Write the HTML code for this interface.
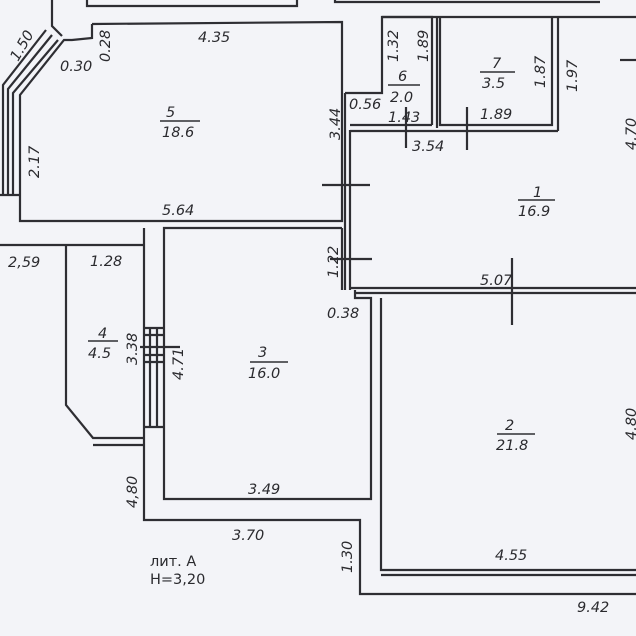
<!DOCTYPE html>
<html><head><meta charset="utf-8"><style>
html,body{margin:0;padding:0;background:#f3f4f8;}
svg{display:block}
text{font-family:"DejaVu Sans","Liberation Sans",sans-serif;font-size:14.5px;fill:#2a2a2e;font-style:italic}
</style></head><body>
<svg width="636" height="636" viewBox="0 0 636 636" xmlns="http://www.w3.org/2000/svg">
<rect width="636" height="636" fill="#f3f4f8"/>
<g stroke="#2e2e33" stroke-width="2.2" fill="none">
<polyline points="87,0 87,6 297,6 297,0"/>
<polyline points="335,0 335,2 600,2"/>
<polyline points="52,0 52,26 62,36"/>
<polyline points="92,24 342,22 342,221 20,221 20,95 64,40 72,40 92,38 92,24"/>
<polyline points="46,30 3,85 3,195"/>
<polyline points="52,35 8,89 8,195"/>
<polyline points="58,40 13,93 13,195"/>
<line x1="0" y1="195" x2="20" y2="195"/>
<line x1="345" y1="93" x2="345" y2="290"/>
<line x1="350" y1="130" x2="350" y2="290"/>
<polyline points="345,93 382,93 382,17 432,17 432,125"/>
<line x1="350" y1="125" x2="432" y2="125"/>
<line x1="437" y1="17" x2="437" y2="128"/>
<polyline points="440,17 440,125 552,125 552,17"/>
<line x1="382" y1="17" x2="636" y2="17"/>
<line x1="558" y1="17" x2="558" y2="131"/>
<line x1="350" y1="131" x2="558" y2="131"/>
<line x1="350" y1="288" x2="636" y2="288"/>
<line x1="355" y1="293" x2="636" y2="293"/>
<polyline points="342,228 164,228 164,499 371,499 371,298 355,298 355,290"/>
<line x1="342" y1="228" x2="342" y2="290"/>
<polyline points="381,298 381,570 636,570"/>
<line x1="381" y1="575" x2="636" y2="575"/>
<polyline points="144,228 144,520 360,520 360,594 636,594"/>
<polyline points="0,245 143,245"/>
<polyline points="66,245 66,405 93,438 143,438"/>
<line x1="93" y1="445" x2="143" y2="445"/>
<line x1="150" y1="328" x2="150" y2="427"/>
<line x1="157" y1="328" x2="157" y2="427"/>
<line x1="144" y1="328" x2="164" y2="328"/>
<line x1="144" y1="335" x2="164" y2="335"/>
<line x1="144" y1="355" x2="164" y2="355"/>
<line x1="144" y1="362" x2="164" y2="362"/>
<line x1="144" y1="427" x2="164" y2="427"/>
<line x1="322" y1="185" x2="370" y2="185"/>
<line x1="330" y1="259" x2="372" y2="259"/>
<line x1="140" y1="347" x2="180" y2="347"/>
<line x1="406" y1="107" x2="406" y2="148"/>
<line x1="467" y1="107" x2="467" y2="150"/>
<line x1="512" y1="258" x2="512" y2="325"/>
<line x1="620" y1="60" x2="636" y2="60"/>
</g>
<g stroke="#2e2e33" stroke-width="1.5">
<line x1="160" y1="121" x2="200" y2="121"/>
<line x1="480" y1="72" x2="515" y2="72"/>
<line x1="388" y1="85" x2="420" y2="85"/>
<line x1="518" y1="200" x2="555" y2="200"/>
<line x1="88" y1="341" x2="118" y2="341"/>
<line x1="250" y1="362" x2="288" y2="362"/>
<line x1="497" y1="434" x2="535" y2="434"/>
</g>
<g>
<text x="198" y="42">4.35</text>
<text x="60" y="71">0.30</text>
<text x="166" y="117">5</text><text x="162" y="137">18.6</text>
<text x="162" y="215">5.64</text>
<text x="8" y="267">2,59</text>
<text x="90" y="266">1.28</text>
<text x="98" y="338">4</text><text x="88" y="358">4.5</text>
<text x="258" y="357">3</text><text x="248" y="378">16.0</text>
<text x="327" y="318">0.38</text>
<text x="248" y="494">3.49</text>
<text x="232" y="540">3.70</text>
<text x="150" y="566" style="font-style:normal">лит. А</text>
<text x="150" y="584" style="font-style:normal">Н=3,20</text>
<text x="505" y="430">2</text><text x="496" y="450">21.8</text>
<text x="495" y="560">4.55</text>
<text x="577" y="612">9.42</text>
<text x="533" y="197">1</text><text x="518" y="216">16.9</text>
<text x="480" y="285">5.07</text>
<text x="492" y="68">7</text><text x="482" y="88">3.5</text>
<text x="480" y="119">1.89</text>
<text x="398" y="81">6</text><text x="390" y="102">2.0</text>
<text x="388" y="122">1.43</text>
<text x="349" y="109">0.56</text>
<text x="412" y="151">3.54</text>
<text transform="translate(18,62) rotate(-60)">1.50</text>
<text transform="translate(110,62) rotate(-90)">0.28</text>
<text transform="translate(39,178) rotate(-90)">2.17</text>
<text transform="translate(340,140) rotate(-90)">3.44</text>
<text transform="translate(338,278) rotate(-90)">1.22</text>
<text transform="translate(398,62) rotate(-90)">1.32</text>
<text transform="translate(428,62) rotate(-90)">1.89</text>
<text transform="translate(545,88) rotate(-90)">1.87</text>
<text transform="translate(577,92) rotate(-90)">1.97</text>
<text transform="translate(636,150) rotate(-90)">4.70</text>
<text transform="translate(636,440) rotate(-90)">4.80</text>
<text transform="translate(137,365) rotate(-90)">3.38</text>
<text transform="translate(183,380) rotate(-90)">4.71</text>
<text transform="translate(137,508) rotate(-90)">4,80</text>
<text transform="translate(352,573) rotate(-90)">1.30</text>
</g>
</svg>
</body></html>
